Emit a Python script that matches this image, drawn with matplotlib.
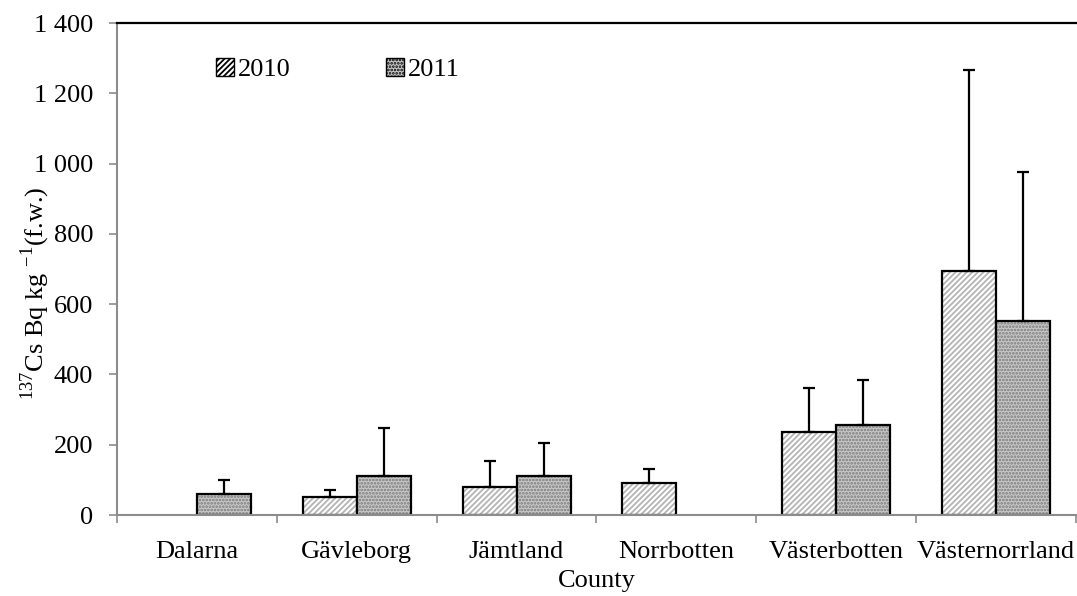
import numpy as np
import matplotlib
matplotlib.use("Agg")
import matplotlib.pyplot as plt
from matplotlib.ticker import FuncFormatter, FixedLocator, NullFormatter
from matplotlib.patches import Patch

# ── data ─────────────────────────────────────────────────────────────────────
counties  = ["Dalarna", "Gävleborg", "Jämtland", "Norrbotten", "Västerbotten", "Västernorrland"]
mean_2010 = [np.nan, 50, 79, 90, 236, 695]
err_2010  = [np.nan, 22, 76, 42, 125, 572]
mean_2011 = [60, 111, 111, np.nan, 257, 553]
err_2011  = [40, 136, 94, np.nan, 126, 422]

plt.rcParams["font.family"] = ["Liberation Serif", "DejaVu Serif"]
plt.rcParams["mathtext.fontset"] = "custom"
plt.rcParams["mathtext.rm"] = "Liberation Serif"
plt.rcParams["hatch.linewidth"] = 1.3

FS = 19

fig = plt.figure(figsize=(10.77, 5.96), dpi=100)
ax = fig.add_axes([0.1086, 0.1359, 0.8905, 0.8255])

x = np.arange(len(counties))
w = 0.3375
grey = "#8c8c8c"

def draw(xpos, vals, errs, face, hatch, hcol):
    # fill + hatch first, then black outline on top
    ax.bar(xpos, vals, w, color=face, hatch=hatch, edgecolor=hcol, linewidth=0)
    ax.bar(xpos, vals, w, fill=False, edgecolor="black", linewidth=1.6)
    up = np.array(errs, dtype=float)
    ax.errorbar(xpos, vals, yerr=[np.zeros_like(up), up], fmt="none",
                ecolor="black", elinewidth=1.6, capsize=4.5, capthick=1.6)

draw(x - w/2, mean_2010, err_2010, "white", "//////", "#b4b4b4")
draw(x + w/2, mean_2011, err_2011, "#c8c8c8", ".....", "#7a7a7a")

ax.set_xlim(-0.5, 5.5)
ax.set_ylim(0, 1400)
ax.set_yticks(range(0, 1401, 200))
ax.yaxis.set_major_formatter(FuncFormatter(lambda v, p: f"{int(v):,}".replace(",", " ")))

ax.xaxis.set_major_locator(FixedLocator(np.arange(-0.5, 5.6, 1)))
ax.xaxis.set_major_formatter(NullFormatter())
ax.xaxis.set_minor_locator(FixedLocator(x))
ax.set_xticklabels(counties, minor=True)
ax.tick_params(axis="x", which="minor", length=0, pad=19, labelsize=FS)
ax.tick_params(axis="x", which="major", length=6, color=grey, width=1.2)
ax.tick_params(axis="y", length=6, color=grey, width=1.2, labelsize=FS, pad=11)

for s in ("left", "bottom"):
    ax.spines[s].set_color(grey)
    ax.spines[s].set_linewidth(1.5)
ax.spines["right"].set_visible(False)
ax.spines["top"].set_color("black")
ax.spines["top"].set_linewidth(1.6)

ax.set_xlabel("County", fontsize=FS, labelpad=5)
ax.set_ylabel(r"$^{\mathrm{137}}$Cs Bq kg $^{\mathrm{-1}}$(f.w.)", fontsize=19)
ax.yaxis.set_label_coords(-0.068, 0.45)

# legend: patch handles show the fill pattern
handles = [Patch(facecolor="white", hatch="//////", edgecolor="black"),
           Patch(facecolor="#c8c8c8", hatch=".....", edgecolor="black")]
ax.legend(handles, ["2010", "2011"], ncol=2, frameon=False, fontsize=FS,
          loc="center left", bbox_to_anchor=(0.078, 0.905), handlelength=0.7,
          handleheight=0.7, handletextpad=0.15, columnspacing=3.6)

fig.savefig("out.png", dpi=100)
